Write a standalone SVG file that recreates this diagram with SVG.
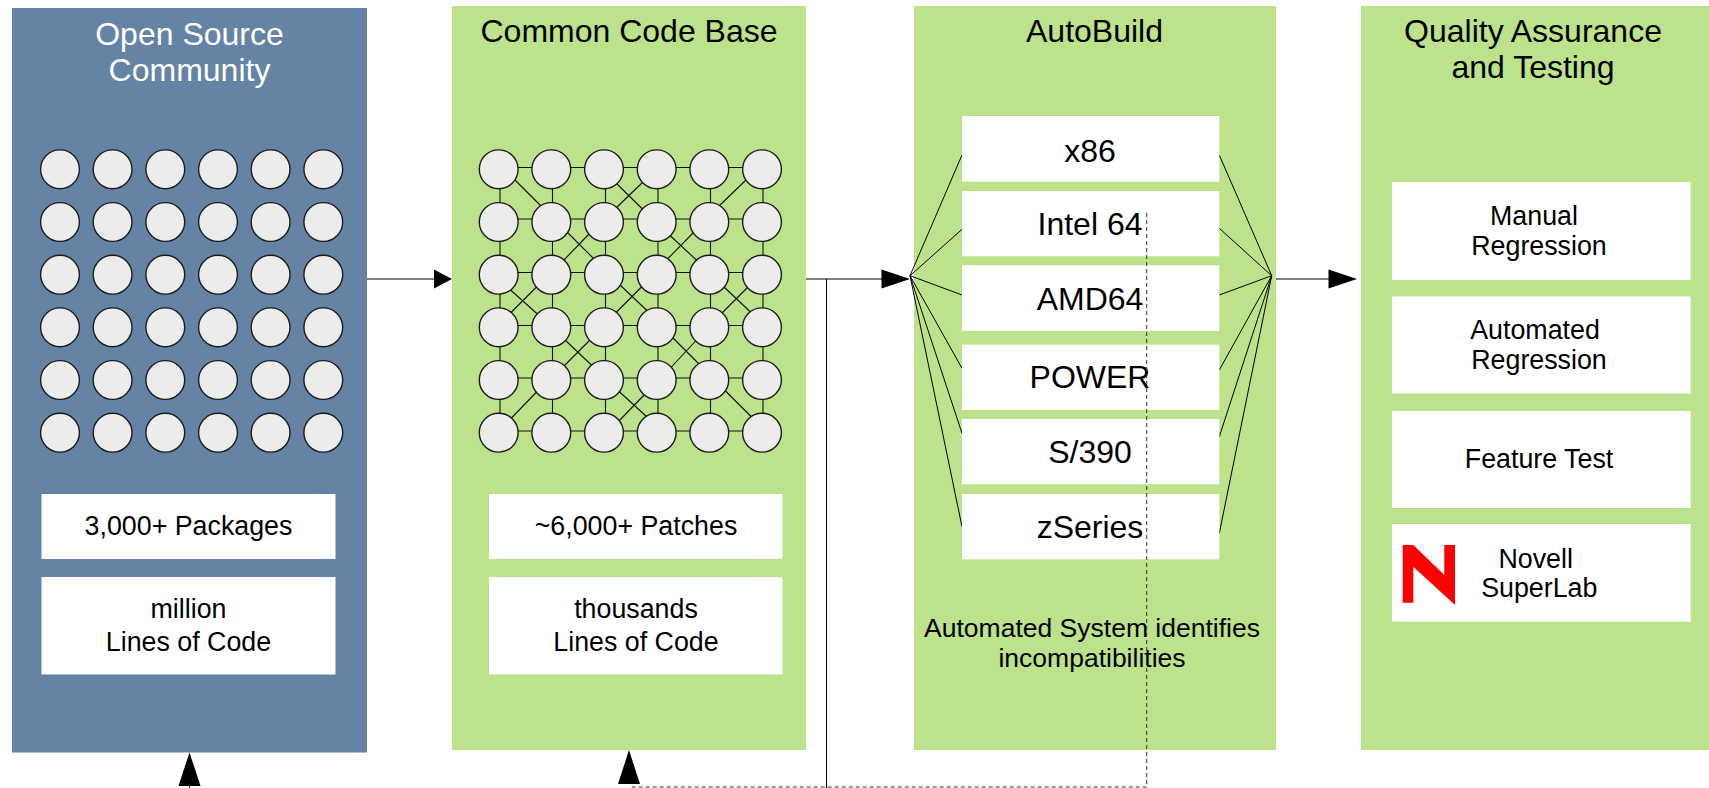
<svg xmlns="http://www.w3.org/2000/svg" width="1709" height="788" viewBox="0 0 1709 788">
<style>
.t{font-family:"Liberation Sans",Arial,sans-serif;text-anchor:middle;fill:#000}
.title{font-size:32px}.title.w{fill:#fff}
.b{font-size:26.800px}.a{font-size:32px}.c{font-size:26.500px}
.box{fill:#fff}.blue{fill:#6483a5}.green{fill:#bce28c}
.n{fill:#ececea;stroke:#1c1c1c;stroke-width:1.400}
.l{stroke:#000;stroke-width:1;fill:none}
.g{stroke:#111;stroke-width:1.100;fill:none}
.d{stroke:#333;stroke-width:1;stroke-dasharray:4 3;fill:none}
.h{fill:#000}
</style>
<defs>
<circle id="c" r="19.400" class="n"/>
<g id="row"><use href="#c" x="0"/><use href="#c" x="52.600"/><use href="#c" x="105.300"/><use href="#c" x="158"/><use href="#c" x="210.600"/><use href="#c" x="263.300"/></g>
<g id="grid"><use href="#row" y="0"/><use href="#row" y="52.700"/><use href="#row" y="105.400"/><use href="#row" y="158"/><use href="#row" y="210.700"/><use href="#row" y="263.400"/></g>
</defs>

<g id="panel-community">
<rect class="blue" x="12" y="8" width="355" height="744.500"/>
<text class="t title w" x="189.500" y="45">Open Source</text>
<text class="t title w" x="189.500" y="81">Community</text>
<use href="#grid" x="60" y="169.300"/>
<rect class="box" x="41.500" y="494" width="294" height="65"/>
<text class="t b" x="188.500" y="535">3,000+ Packages</text>
<rect class="box" x="41.500" y="577" width="294" height="97.500"/>
<text class="t b" x="188.500" y="618">million</text>
<text class="t b" x="188.500" y="651">Lines of Code</text>
</g>

<g id="panel-codebase">
<rect class="green" x="452" y="6" width="354" height="744"/>
<text class="t title" x="629" y="42">Common Code Base</text>
</g>

<g id="panel-autobuild">
<rect class="green" x="914" y="6" width="362" height="744"/>
<text class="t title" x="1094.500" y="42">AutoBuild</text>
</g>

<g id="panel-qa">
<rect class="green" x="1361" y="6" width="348" height="744"/>
<text class="t title" x="1533" y="42">Quality Assurance</text>
<text class="t title" x="1533" y="78">and Testing</text>
</g>

<g id="connectors">
<path class="g" d="M500 169V432M552.500 169V432M605.500 169V432M658 169V432M710.500 169V432M763 169V432M499 167.500H762M499 219H762M499 272.500H762M499 325.500H762M499 378H762M499 431H762"/>
<path class="g" d="M514 179L542 207M615.500 182.500L644.500 211M566.500 231.500L595 260M669.500 235L698.500 262M510 289.500L538.500 315M618.500 283.500L648.500 312M723.500 286.500L752 313.500M564 339L593.500 367M671.500 336.500L700 365M617.500 390L647 417M724.500 390L752.500 418M643.500 181.500L615 209M747 179L718 207M590 233L562 262M694.500 231.500L666.500 260M537 286.500L510 313.500M642 286.500L615 313.500M748.500 286.500L721.500 313.500M592 338L563 367M697 339.500L670 368.500M537 391.500L511 418.500M646 393L618 422"/>
<path class="l" d="M367 279H434M806 279H882M1276 279H1329M826.500 279V788M189.500 786V788"/>
<path class="l" d="M910 275.700L962 155M910 275.700L962 229.300M910 275.700L962 295M910 275.700L962 368.300M910 275.700L962 433.300M910 275.700L962 526.700"/>
<path class="l" d="M1271.700 275.700L1219.300 155M1271.700 275.700L1219.300 228.300M1271.700 275.700L1219.300 295M1271.700 275.700L1219.300 370M1271.700 275.700L1219.300 436.700M1271.700 275.700L1219.300 533.300"/>
<polygon class="h" points="434,269.500 452,279 434,288.500"/>
<polygon class="h" points="881.500,269.500 910,279 881.500,288.500"/>
<polygon class="h" points="1328.500,269.500 1357,279 1328.500,288.500"/>
<polygon class="h" points="189.500,752.500 200.500,786 178.500,786"/>
<polygon class="h" points="629,750 640,784 618,784"/>
</g>

<g id="node-grid-codebase"><use href="#grid" x="498.700" y="169.300"/></g>

<g id="platform-x86"><rect class="box" x="962" y="116" width="257.300" height="65.700"/><text class="t a" x="1090" y="162">x86</text></g>
<g id="platform-intel64"><rect class="box" x="962" y="191" width="257.300" height="65.300"/><text class="t a" x="1090" y="235">Intel 64</text></g>
<g id="platform-amd64"><rect class="box" x="962" y="265.300" width="257.300" height="65.700"/><text class="t a" x="1090" y="310">AMD64</text></g>
<g id="platform-power"><rect class="box" x="962" y="344.700" width="257.300" height="65.300"/><text class="t a" x="1090" y="388">POWER</text></g>
<g id="platform-s390"><rect class="box" x="962" y="419" width="257.300" height="65.300"/><text class="t a" x="1090" y="463">S/390</text></g>
<g id="platform-zseries"><rect class="box" x="962" y="494" width="257.300" height="65.300"/><text class="t a" x="1090" y="538">zSeries</text></g>
<g id="autobuild-note">
<text class="t c" x="1092" y="637">Automated System identifies</text>
<text class="t c" x="1092" y="667">incompatibilities</text>
</g>

<g id="box-patches"><rect class="box" x="489" y="494" width="293.500" height="65"/><text class="t b" x="636" y="535">~6,000+ Patches</text></g>
<g id="box-lines"><rect class="box" x="489" y="577" width="293.500" height="97.500"/><text class="t b" x="636" y="618">thousands</text><text class="t b" x="636" y="651">Lines of Code</text></g>

<g id="qa-manual"><rect class="box" x="1392" y="182" width="298.700" height="98"/><text class="t b" x="1534" y="224.500">Manual</text><text class="t b" x="1539" y="255">Regression</text></g>
<g id="qa-automated"><rect class="box" x="1392" y="296.500" width="298.700" height="97"/><text class="t b" x="1535" y="339">Automated</text><text class="t b" x="1539" y="368.500">Regression</text></g>
<g id="qa-feature"><rect class="box" x="1392" y="411" width="298.700" height="97"/><text class="t b" x="1539" y="467.500">Feature Test</text></g>
<g id="qa-superlab"><rect class="box" x="1392" y="524" width="298.700" height="97.700"/>
<polygon id="novell-logo" fill="#f00" points="1402.700,545 1413.300,545 1444.300,575 1444.300,545 1455,545 1455,605 1413.300,566.700 1413.300,602.700 1402.700,602.700"/>
<text class="t b" x="1535.700" y="568.300">Novell</text><text class="t b" x="1539.300" y="596.700">SuperLab</text></g>

<path id="feedback" class="d" d="M1146.700 213V787H629"/>
</svg>
